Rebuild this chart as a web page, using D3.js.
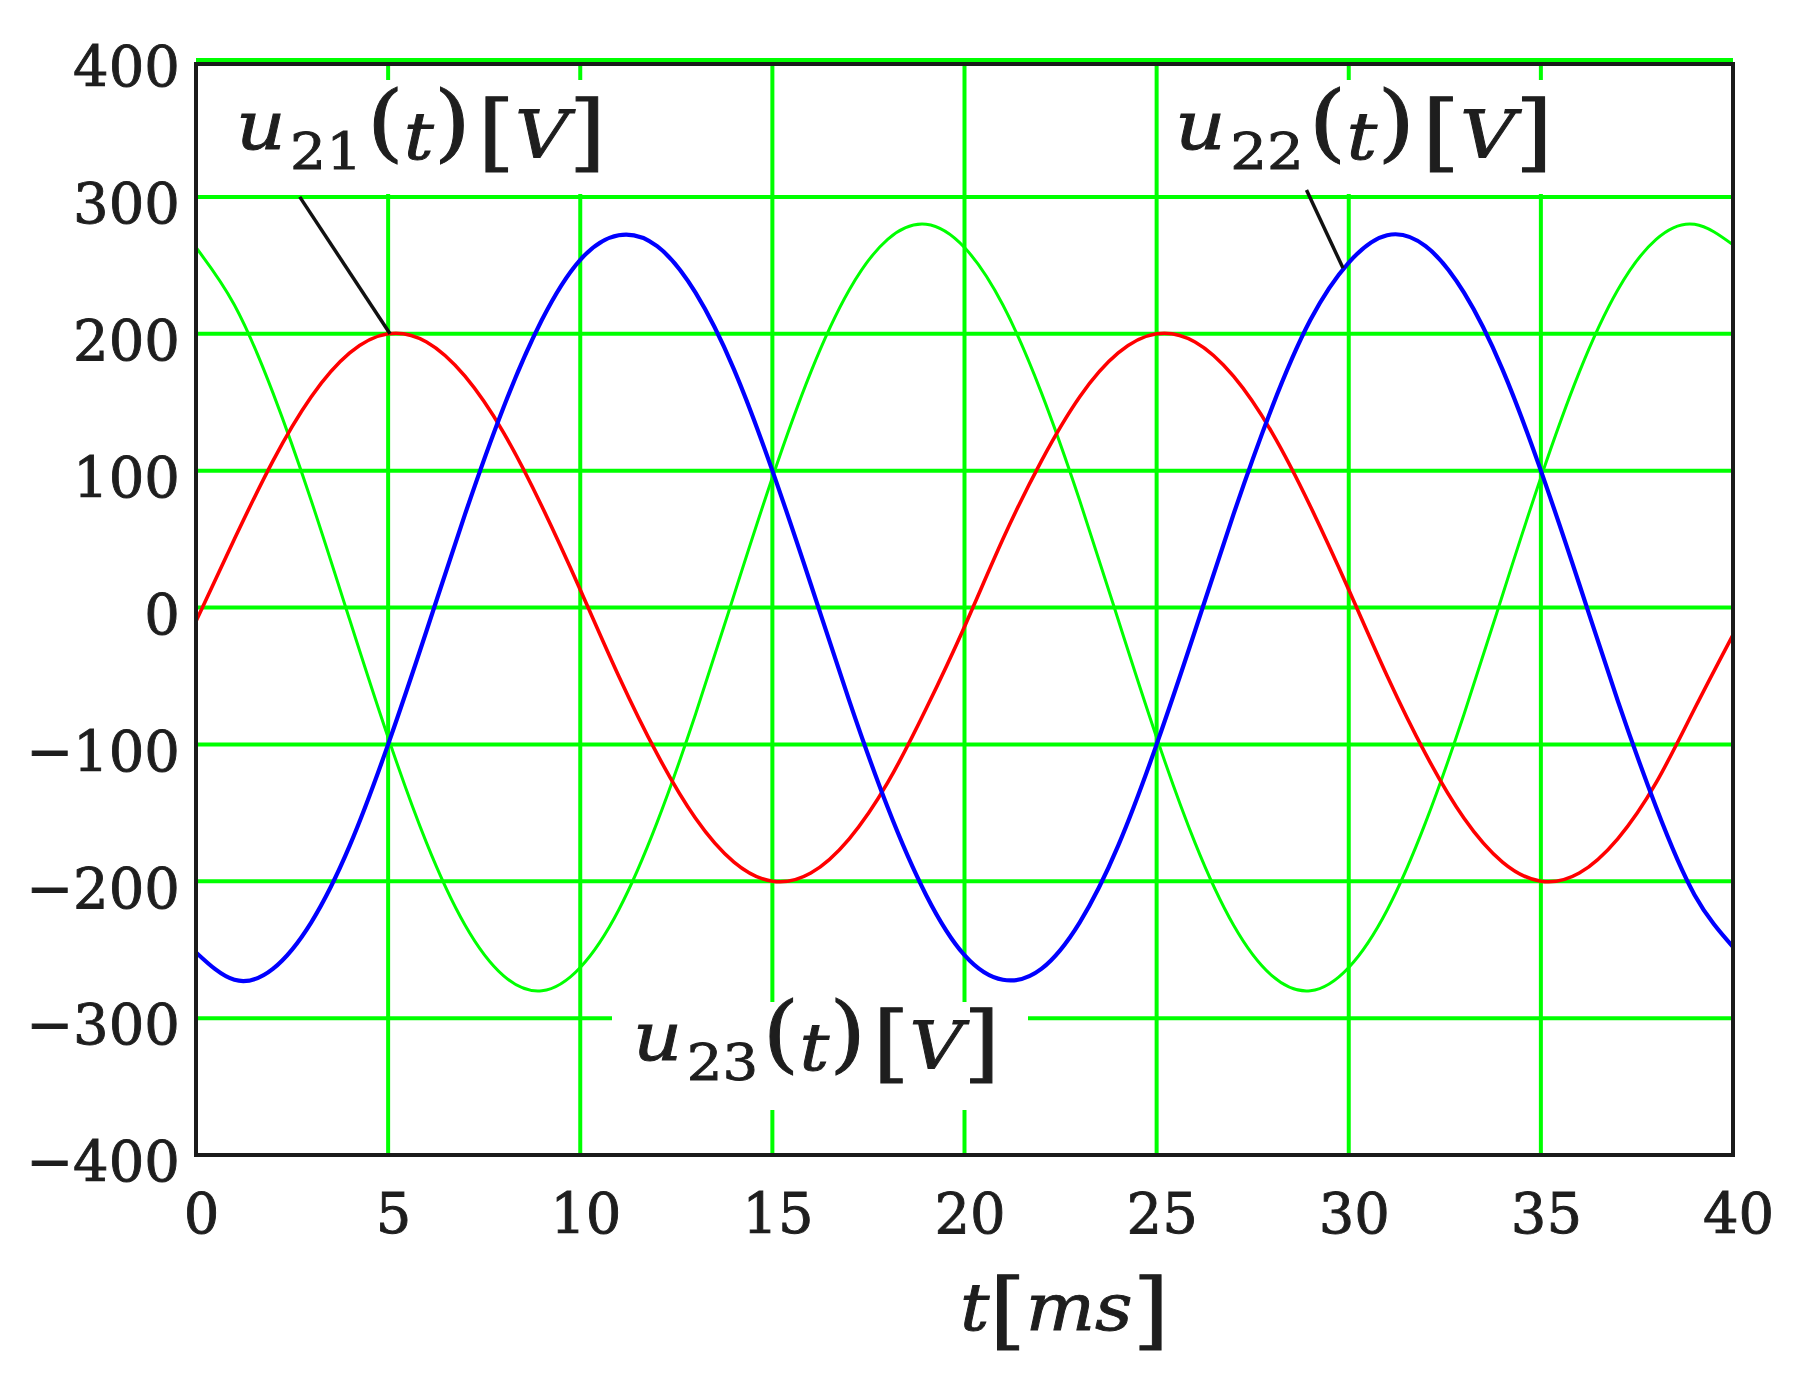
<!DOCTYPE html>
<meta charset="utf-8">
<title>u21 u22 u23</title>
<style>
body { margin: 0; background: white; }
text { font-family: "DejaVu Serif", serif; fill: #1e1e1e; stroke: #1e1e1e; stroke-width: 0.9px; }
.axis text { font-size: 56px; }
</style>
<body>
<script src="https://d3js.org/d3.v7.min.js"></script>
<script>
var width = 1807, height = 1389;

// t [ms]
var times = [0, 1, 2, 3, 4, 5, 6, 7, 8, 9, 10, 11, 12, 13, 14, 15, 16, 17, 18, 19, 20,
             21, 22, 23, 24, 25, 26, 27, 28, 29, 30, 31, 32, 33, 34, 35, 36, 37, 38, 39, 40];
// u21 (red)
var u21 = [-10, 50, 107, 154, 186, 200, 194, 169, 128, 74, 13, -50, -107, -154, -186, -200, -194, -169, -128, -74, -14,
           50, 107, 154, 186, 200, 194, 169, 128, 74, 13, -50, -107, -154, -186, -200, -194, -169, -128, -74, -20];
// u22 (blue)
var u22 = [-252, -272, -264, -230, -174, -100, -17, 68, 146, 210, 254, 272, 264, 230, 174, 100, 17, -68, -146, -210, -254,
           -272, -264, -230, -174, -100, -17, 68, 146, 210, 252, 272, 264, 230, 174, 100, 17, -68, -146, -210, -248];
// u23 (green)
var u23 = [263, 221, 157, 78, -9, -95, -172, -232, -269, -280, -263, -221, -157, -78, 9, 95, 172, 232, 269, 280, 263,
           221, 157, 78, -9, -95, -172, -232, -269, -280, -263, -221, -157, -78, 9, 95, 172, 232, 269, 280, 265];

var xTicks = [0, 5, 10, 15, 20, 25, 30, 35, 40];
var yTicks = [400, 300, 200, 100, 0, -100, -200, -300, -400];

// leader lines [t0, u0, t1, u1]
var leaders = [[2.7, 300, 5.05, 200], [28.9, 305, 29.85, 248]];
var subscripts = ["21", "22", "23"];

var x = d3.scaleLinear().domain([0, 40]).range([196, 1733]);
var y = d3.scaleLinear().domain([-400, 400]).range([1155, 60]);

var svg = d3.select("body").append("svg")
    .attr("width", width)
    .attr("height", height);

svg.append("rect").attr("width", width).attr("height", height).attr("fill", "white");

svg.append("clipPath").attr("id", "plot")
  .append("rect")
    .attr("x", x(0)).attr("y", y(400))
    .attr("width", x(40) - x(0)).attr("height", y(-400) - y(400));

// grid
svg.append("g").selectAll("line")
    .data(xTicks.filter(function(d) { return d > 0 && d < 40; }))
  .enter().append("line")
    .attr("x1", function(d) { return x(d); })
    .attr("x2", function(d) { return x(d); })
    .attr("y1", y(400)).attr("y2", y(-400))
    .attr("stroke", "#00ff00").attr("stroke-width", 4);

svg.append("g").selectAll("line")
    .data(yTicks.filter(function(d) { return d > -400; }))
  .enter().append("line")
    .attr("x1", x(0)).attr("x2", x(40))
    .attr("y1", function(d) { return y(d); })
    .attr("y2", function(d) { return y(d); })
    .attr("stroke", "#00ff00").attr("stroke-width", 4);

// white boxes behind the labels cut the grid
var boxes = [[200, 80, 440, 114], [1162, 80, 420, 114], [612, 1002, 416, 108]];
svg.append("g").selectAll("rect")
    .data(boxes)
  .enter().append("rect")
    .attr("x", function(d) { return d[0]; })
    .attr("y", function(d) { return d[1]; })
    .attr("width", function(d) { return d[2]; })
    .attr("height", function(d) { return d[3]; })
    .attr("fill", "white");

// curves
var series = [
  {values: u23, color: "#00ff00", w: 3},
  {values: u21, color: "#ff0000", w: 3.6},
  {values: u22, color: "#0000ff", w: 4.2}
];

var line = d3.line()
    .x(function(d) { return x(d[0]); })
    .y(function(d) { return y(d[1]); })
    .curve(d3.curveNatural);

svg.append("g").attr("clip-path", "url(#plot)")
  .selectAll("path")
    .data(series)
  .enter().append("path")
    .attr("d", function(s) { return line(times.map(function(t, i) { return [t, s.values[i]]; })); })
    .attr("fill", "none")
    .attr("stroke", function(s) { return s.color; })
    .attr("stroke-width", function(s) { return s.w; })
    .attr("stroke-linejoin", "round");

// leaders
svg.append("g").selectAll("line")
    .data(leaders)
  .enter().append("line")
    .attr("x1", function(d) { return x(d[0]); })
    .attr("y1", function(d) { return y(d[1]); })
    .attr("x2", function(d) { return x(d[2]); })
    .attr("y2", function(d) { return y(d[3]); })
    .attr("stroke", "#111").attr("stroke-width", 3.5);

// frame
svg.append("path")
    .attr("d", "M" + x(0) + "," + (y(400) + 4) + "H" + x(40) + "V" + y(-400) + "H" + x(0) + "Z")
    .attr("fill", "none").attr("stroke", "#1a1a1a").attr("stroke-width", 4);
svg.append("line")
    .attr("x1", x(0)).attr("x2", x(40))
    .attr("y1", y(400)).attr("y2", y(400))
    .attr("stroke", "#00ff00").attr("stroke-width", 4);

// axes (labels only)
var yAxis = d3.axisLeft(y).tickValues(yTicks).tickSize(0).tickPadding(16)
    .tickFormat(function(d) { return d < 0 ? "\u2212" + (-d) : d; });
var gy = svg.append("g").attr("class", "axis").attr("transform", "translate(" + x(0) + ",0)").call(yAxis);
gy.select(".domain").remove();
gy.selectAll("text").attr("dy", "0.46em");

var xAxis = d3.axisBottom(x).tickValues(xTicks).tickSize(0).tickPadding(38);
var gx = svg.append("g").attr("class", "axis").attr("transform", "translate(0," + y(-400) + ")").call(xAxis);
gx.select(".domain").remove();
gx.selectAll("text").attr("x", 5);
svg.selectAll(".axis").attr("font-size", null).attr("font-family", null);

// math style labels
function mathLabel(parts, x0, top, w) {
  var t = svg.append("text")
      .attr("x", x0)
      .attr("textLength", w)
      .attr("lengthAdjust", "spacingAndGlyphs");
  parts.forEach(function(p) {
    t.append("tspan")
      .attr("y", top + p.dy)
      .attr("dx", p.dx || 0)
      .style("font-size", p.size + "px")
      .style("font-style", p.it ? "italic" : "normal")
      .text(p.s);
  });
}

function uParts(sub) {
  return [
    {s: "u", it: 1, size: 68, dy: 52},
    {s: sub, size: 50, dy: 72, dx: 4},
    {s: "(", size: 84, dy: 54, dx: 4},
    {s: "t", it: 1, size: 66, dy: 62},
    {s: ")", size: 84, dy: 54},
    {s: "[", size: 84, dy: 64, dx: 6},
    {s: "V", it: 1, size: 66, dy: 60},
    {s: "]", size: 84, dy: 64}
  ];
}

var labelPos = [[236, 97, 370], [1175, 97, 378], [633, 1008, 367]];
labelPos.forEach(function(p, i) { mathLabel(uParts(subscripts[i]), p[0], p[1], p[2]); });

mathLabel([
  {s: "t", it: 1, size: 66, dy: 55},
  {s: "[", size: 84, dy: 64},
  {s: "ms", it: 1, size: 66, dy: 55},
  {s: "]", size: 84, dy: 64}
], 960, 1275, 209);
</script>
</body>
